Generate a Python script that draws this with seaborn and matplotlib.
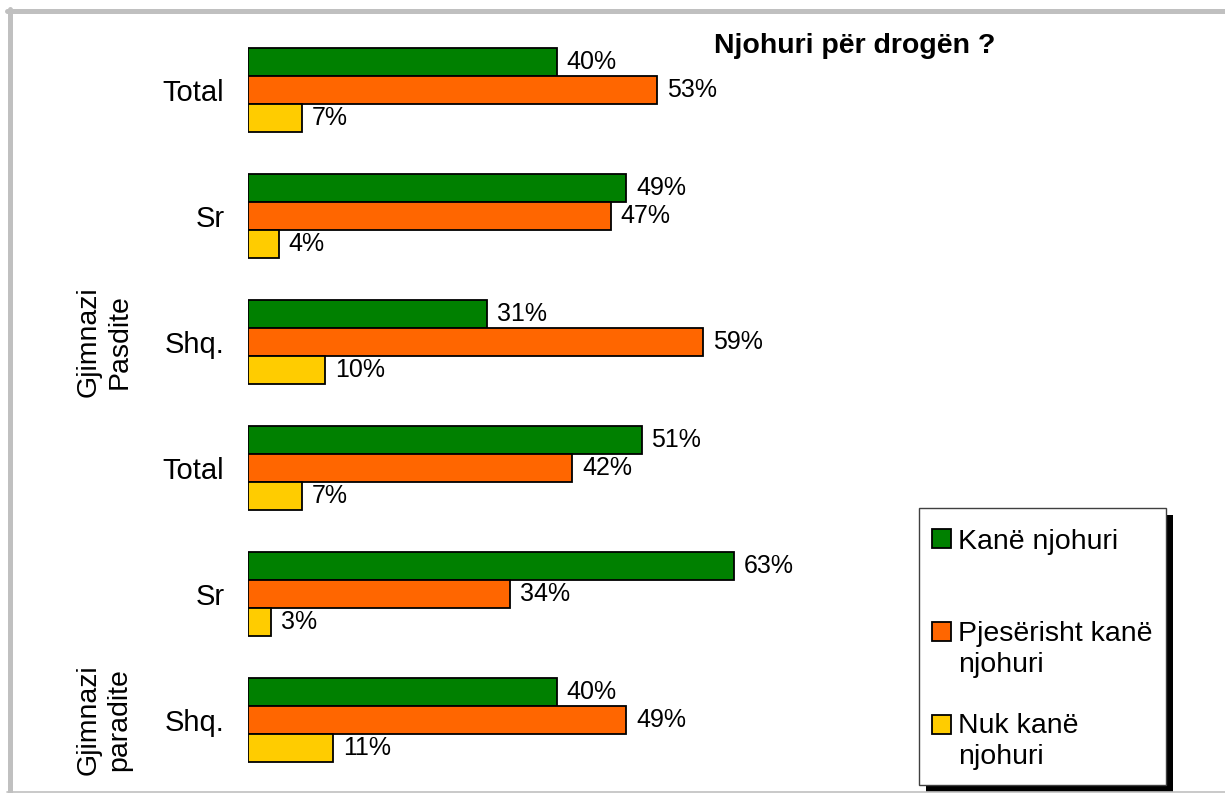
import matplotlib
matplotlib.use("Agg")
import matplotlib.pyplot as plt
import matplotlib.transforms as mtransforms
from matplotlib.patches import Rectangle
from matplotlib.lines import Line2D
import seaborn as sns
import pandas as pd

# ---------------- data ----------------
categories = ["Pasdite Total", "Pasdite Sr", "Pasdite Shq.",
              "Paradite Total", "Paradite Sr", "Paradite Shq."]
category_labels = ["Total", "Sr", "Shq.", "Total", "Sr", "Shq."]
series = ["Kanë njohuri", "Pjesërisht kanë njohuri", "Nuk kanë njohuri"]
kane = [40, 49, 31, 51, 63, 40]
pjeserisht = [53, 47, 59, 42, 34, 49]
nuk = [7, 4, 10, 7, 3, 11]
group_labels = ["Gjimnazi\nPasdite", "Gjimnazi\nparadite"]
group_anchor = [2, 5]
title = "Njohuri për drogën ?"
legend_lines = [["Kanë njohuri"], ["Pjesërisht kanë", "njohuri"], ["Nuk kanë", "njohuri"]]
colors = ["#008000", "#FF6600", "#FFCC00"]

rows = []
for s, vals in zip(series, [kane, pjeserisht, nuk]):
    for c, v in zip(categories, vals):
        rows.append({"cat": c, "val": v, "series": s})
df = pd.DataFrame(rows)

# ---------------- style ----------------
sns.set_style("white")
plt.rcParams["font.family"] = ["Liberation Sans", "DejaVu Sans"]
plt.rcParams["text.color"] = "black"
plt.rcParams["ytick.color"] = "black"
plt.rcParams["xtick.color"] = "black"
plt.rcParams["axes.labelcolor"] = "black"

W, H = 1225, 793
fig = plt.figure(figsize=(W / 100, H / 100), dpi=100)
fig.patch.set_facecolor("white")

def fx(px):
    return px / W

def fy(py):
    return 1 - py / H

ax = fig.add_axes([fx(248), fy(783), fx(1020) - fx(248), (783 - 27) / H])

sns.barplot(data=df, y="cat", x="val", hue="series", order=categories,
            hue_order=series, palette=colors, saturation=1, width=0.667,
            edgecolor="black", linewidth=1.3, orient="h", ax=ax, legend=False,
            errorbar=None)

for cont in ax.containers:
    ax.bar_label(cont, labels=[f"{int(v)}%" for v in cont.datavalues],
                 padding=7, fontsize=18, color="black")

ax.set_xlim(0, 100)
ax.set_ylim(5.5, -0.5)
ax.set_yticks(range(len(categories)))
ax.set_yticklabels(category_labels, fontsize=21, color="black")
ax.tick_params(axis="y", length=0, pad=17)
ax.set_xticks([])
ax.set_xlabel("")
ax.set_ylabel("")
for sp in ax.spines.values():
    sp.set_visible(False)
ax.set_facecolor("none")

# group labels
trans = mtransforms.blended_transform_factory(fig.transFigure, ax.transData)
for lab, pos in zip(group_labels, group_anchor):
    ax.text(fx(104), pos, lab, transform=trans, rotation=90, ha="center",
            va="center", multialignment="center", fontsize=20.5,
            linespacing=1.25, clip_on=False, color="black")

# title
fig.text(fx(855), fy(53), title, ha="center", va="baseline",
         fontsize=20.5, fontweight="bold", color="black")

# legend (key box with shadow)
lx0, lx1, ly0, ly1 = 919, 1166, 508, 785
fig.add_artist(Rectangle((fx(lx0 + 7), fy(ly1 + 7)), fx(lx1) - fx(lx0),
                         (ly1 - ly0) / H, transform=fig.transFigure,
                         facecolor="black", edgecolor="none", zorder=5))
fig.add_artist(Rectangle((fx(lx0), fy(ly1)), fx(lx1) - fx(lx0),
                         (ly1 - ly0) / H, transform=fig.transFigure,
                         facecolor="white", edgecolor="#404040", lw=1.0, zorder=6))
sq_tops = [529, 622, 715]
baselines = [[549], [641, 672], [733, 764]]
for col, top, lines, bls in zip(colors, sq_tops, legend_lines, baselines):
    fig.add_artist(Rectangle((fx(932), fy(top + 19)), 19 / W, 19 / H,
                             transform=fig.transFigure, facecolor=col,
                             edgecolor="black", lw=1.3, zorder=7))
    for t, b in zip(lines, bls):
        fig.text(fx(958), fy(b), t, ha="left", va="baseline", fontsize=20.5,
                 zorder=8, color="black")

# outer gray frame (top/left thick, bottom thin)
fig.add_artist(Line2D([fx(7), 1], [fy(11), fy(11)], transform=fig.transFigure,
                      color="#c0c0c0", lw=3.6, zorder=10))
fig.add_artist(Line2D([fx(9.5), fx(9.5)], [fy(9), 0], transform=fig.transFigure,
                      color="#c0c0c0", lw=3.6, zorder=10))
fig.add_artist(Line2D([fx(7), 1], [fy(791.5), fy(791.5)], transform=fig.transFigure,
                      color="#c0c0c0", lw=1.2, zorder=10))

fig.savefig("out.png", dpi=100)
